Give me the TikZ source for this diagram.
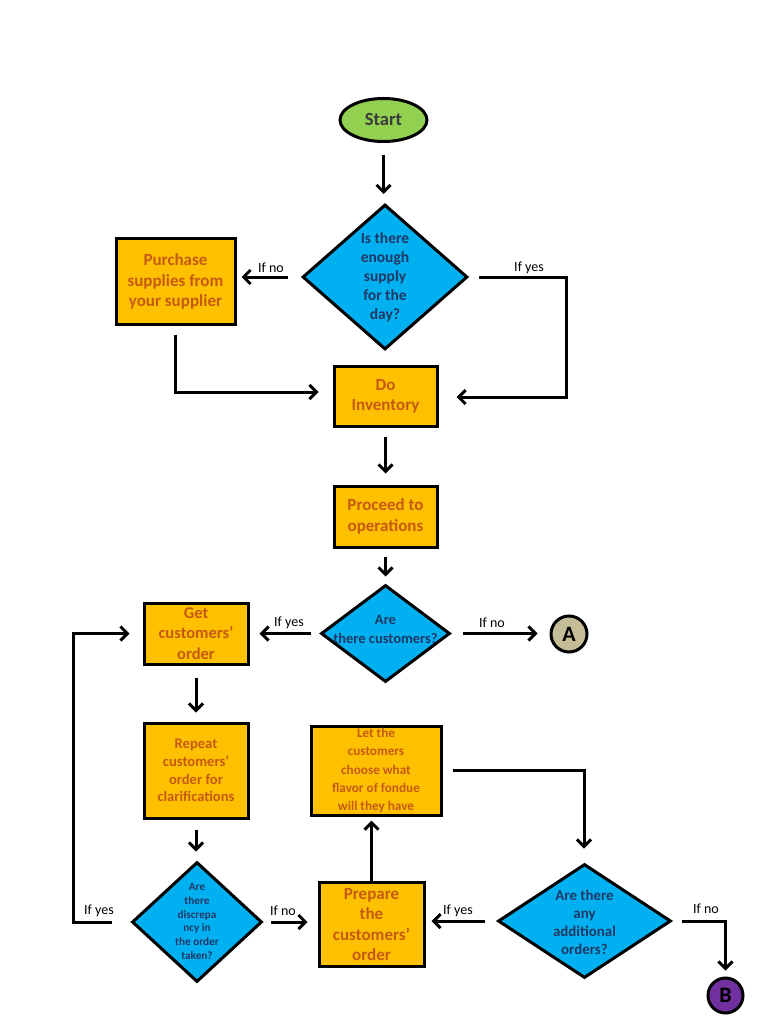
\documentclass[tikz,border=0pt]{standalone}
\usepackage{fontspec}
\setmainfont{Carlito}
\usetikzlibrary{shapes.geometric,arrows.meta}
\definecolor{boxfill}{HTML}{FFC000}
\definecolor{boxtext}{HTML}{C55A11}
\definecolor{diafill}{HTML}{00B0F0}
\definecolor{diatext}{HTML}{203864}
\definecolor{startfill}{HTML}{92D050}
\definecolor{startext}{HTML}{3A3A3A}
\definecolor{afill}{HTML}{C4BD97}
\definecolor{bfill}{HTML}{7030A0}
\tikzset{
  box/.style={draw=black, line width=3pt, fill=boxfill, rectangle, inner sep=0pt},
  btext/.style={text=boxtext, align=center, font=\bfseries\fontsize{17}{20.5}\selectfont, inner sep=0pt},
  dia/.style={draw=black, line width=3pt, fill=diafill, diamond, inner sep=0pt},
  dtext/.style={text=diatext, align=center, font=\bfseries\fontsize{15.5}{19}\selectfont, inner sep=0pt},
  conn/.style={draw=black, line width=3pt, circle, inner sep=0pt, minimum size=35pt, font=\bfseries\fontsize{22}{22}\selectfont},
  lbl/.style={font=\fontsize{14}{16}\selectfont, inner sep=0pt, text=black},
  arr/.style={line width=3pt, -{Straight Barb[length=7pt,width=14pt]}},
}
\begin{document}
\begin{tikzpicture}[x=1pt,y=-1pt]
\fill[white] (0,0) rectangle (768,1024);
\useasboundingbox (0,0) rectangle (768,1024);

% nodes
\node[draw=black, line width=3pt, fill=startfill, ellipse, minimum width=87pt, minimum height=43pt, inner sep=0pt, text=startext, font=\bfseries\fontsize{18.5}{20}\selectfont] (start) at (383.5,120) {Start};

\node[dia, minimum width=165pt, minimum height=145pt] (d1) at (385,277) {};
\node[dtext] (d1t) at (385,277) {Is there\\enough\\supply\\for the\\day?};

\node[box, minimum width=119pt, minimum height=86pt] (pur) at (175.5,281) {};
\node[btext] (purt) at (175.5,281.5) {Purchase\\supplies from\\your supplier};

\node[box, minimum width=103pt, minimum height=60pt] (inv) at (385.5,396) {};
\node[btext] (invt) at (385.5,396.5) {Do\\Inventory};

\node[box, minimum width=103pt, minimum height=61pt] (proc) at (385.5,516.5) {};
\node[btext] (proct) at (385.5,516.5) {Proceed to\\operations};

\node[dia, minimum width=129pt, minimum height=97pt] (d2) at (385.5,633.5) {};
\node[dtext, font=\bfseries\fontsize{14.5}{19}\selectfont] (d2t) at (385.5,629.5) {Are\\there customers?};

\node[box, minimum width=104pt, minimum height=61pt] (get) at (196,633.5) {};
\node[btext, font=\bfseries\fontsize{16.5}{20.5}\selectfont] (gett) at (196,633.5) {Get\\customers'\\order};

\node[conn, fill=afill, minimum size=36pt] (A) at (569,634) {A};

\node[box, minimum width=104pt, minimum height=95pt] (rep) at (196,770.5) {};
\node[btext, font=\bfseries\fontsize{14.6}{17.7}\selectfont] (rept) at (196,770.5) {Repeat\\customers'\\order for\\clarifications};

\node[dia, minimum width=130pt, minimum height=120pt] (d3) at (197,922) {};
\node[dtext, font=\bfseries\fontsize{11.2}{13.7}\selectfont] (d3t) at (197,921.5) {Are\\there\\discrepa\\ncy in\\the order\\taken?};

\node[box, minimum width=105pt, minimum height=84pt] (prep) at (371.5,924) {};
\node[btext] (prept) at (371.5,924.5) {Prepare\\the\\customers'\\order};

\node[box, minimum width=130pt, minimum height=89pt] (let) at (376,770.5) {};
\node[btext, font=\bfseries\fontsize{13.2}{18.2}\selectfont] (lett) at (376,770.5) {Let the\\customers\\choose what\\flavor of fondue\\will they have};

\node[dia, minimum width=173pt, minimum height=114pt] (d4) at (584.5,921) {};
\node[dtext, font=\bfseries\fontsize{14.9}{17.9}\selectfont] (d4t) at (584.5,922) {Are there\\any\\additional\\orders?};

\node[conn, fill=bfill] (B) at (725.5,995.5) {B};

% coordinates
\coordinate (c1) at (566,277);
\coordinate (c2) at (566,397);
\coordinate (c3) at (175.5,392);
\coordinate (c5) at (73,633.5);
\coordinate (c6) at (584,770);
\coordinate (c7) at (725.5,921);

% connectors
\draw[arr, shorten <=12pt, shorten >=9pt] (start.south) -- (start.south |- d1.north);
\draw[arr, shorten <=13pt, shorten >=5pt] (d1.west) -- (d1.west -| pur.east);
\draw[arr, shorten >=18pt] ([xshift=10pt]d1.east) -- (c1) -- (c2) -- (c2 -| inv.east);
\draw[arr, shorten >=14pt] ([yshift=-9pt]pur.south) -- (c3) -- (c3 -| inv.west);
\draw[arr, shorten <=9pt, shorten >=11pt] (inv.south) -- (proc.north);
\draw[arr, shorten <=8pt, shorten >=7pt] (proc.south) -- (d2.north);
\draw[arr, shorten <=9pt, shorten >=10pt] (d2.west) -- (d2.west -| get.east);
\draw[arr, shorten <=11pt, shorten >=12pt] (d2.east) -- (d2.east -| A.west);
\draw[arr, shorten <=12pt, shorten >=9pt] (get.south) -- (rep.north);
\draw[arr, shorten <=10pt, shorten >=9pt] (rep.south) -- (rep.south |- d3.north);
\draw[arr, shorten >=13pt] ([xshift=-19pt]d3.west) -- (d3.west -| c5) -- (c5) -- (get.west);
\draw[arr, shorten <=7pt, shorten >=10pt] (d3.east) -- (d3.east -| prep.west);
\draw[arr, shorten >=4pt] (prep.north) -- (prep.north |- let.south);
\draw[arr, shorten >=14pt] ([xshift=10pt]let.east) -- (let.east -| c6) -- (c6 |- d4.north);
\draw[arr, shorten <=12pt, shorten >=6pt] (d4.west) -- (d4.west -| prep.east);
\draw[arr, shorten >=6pt] ([xshift=9pt]d4.east) -- (c7) -- (c7 |- B.north);

% labels
\node[lbl] (l1) at (271,268) {If no};
\node[lbl] (l2) at (529,268) {If yes};
\node[lbl] (l3) at (289,623) {If yes};
\node[lbl] (l4) at (492,623) {If no};
\node[lbl] (l5) at (99,911) {If yes};
\node[lbl] (l6) at (283,911) {If no};
\node[lbl] (l7) at (458,911) {If yes};
\node[lbl] (l8) at (706,909) {If no};
\end{tikzpicture}
\end{document}
